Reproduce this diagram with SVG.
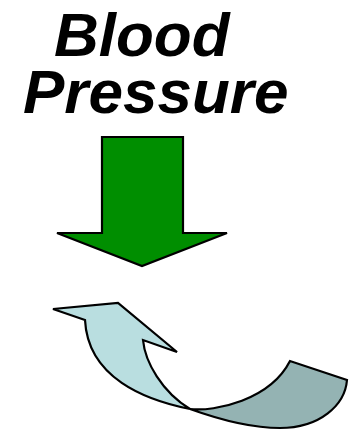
<svg xmlns="http://www.w3.org/2000/svg" width="350" height="433" viewBox="0 0 350 433">
<style>
.title{font-family:"Liberation Sans",Arial,sans-serif;font-weight:bold;font-style:italic;font-size:62px;fill:#000}
.outline{stroke:#000;stroke-width:2.2;stroke-linejoin:miter}
</style>
<rect width="350" height="433" fill="#fff"/>
<g id="title">
<text class="title"><tspan x="54" y="56">Blood</tspan><tspan x="23" y="113">Pressure</tspan></text>
</g>
<g id="down-arrow">
<polygon class="outline" fill="#008E00" points="102,137 183,137 183,233 227,233 142,266 57,233 102,233"/>
</g>
<g id="curved-arrow">
<path class="outline" fill="#94B3B3" d="M190,409 C215,412 270,400 290,361 L347,380 C345,405 320,428 280,428 C250,428 215,418 190,409 Z"/>
<path class="outline" fill="#B9DEE0" d="M53,309 L118,303 L177,352 L143,340 C145,362 162,392 190,409 C145,400 88,378 85,320 Z"/>
</g>
<g id="connectors"></g>
</svg>
